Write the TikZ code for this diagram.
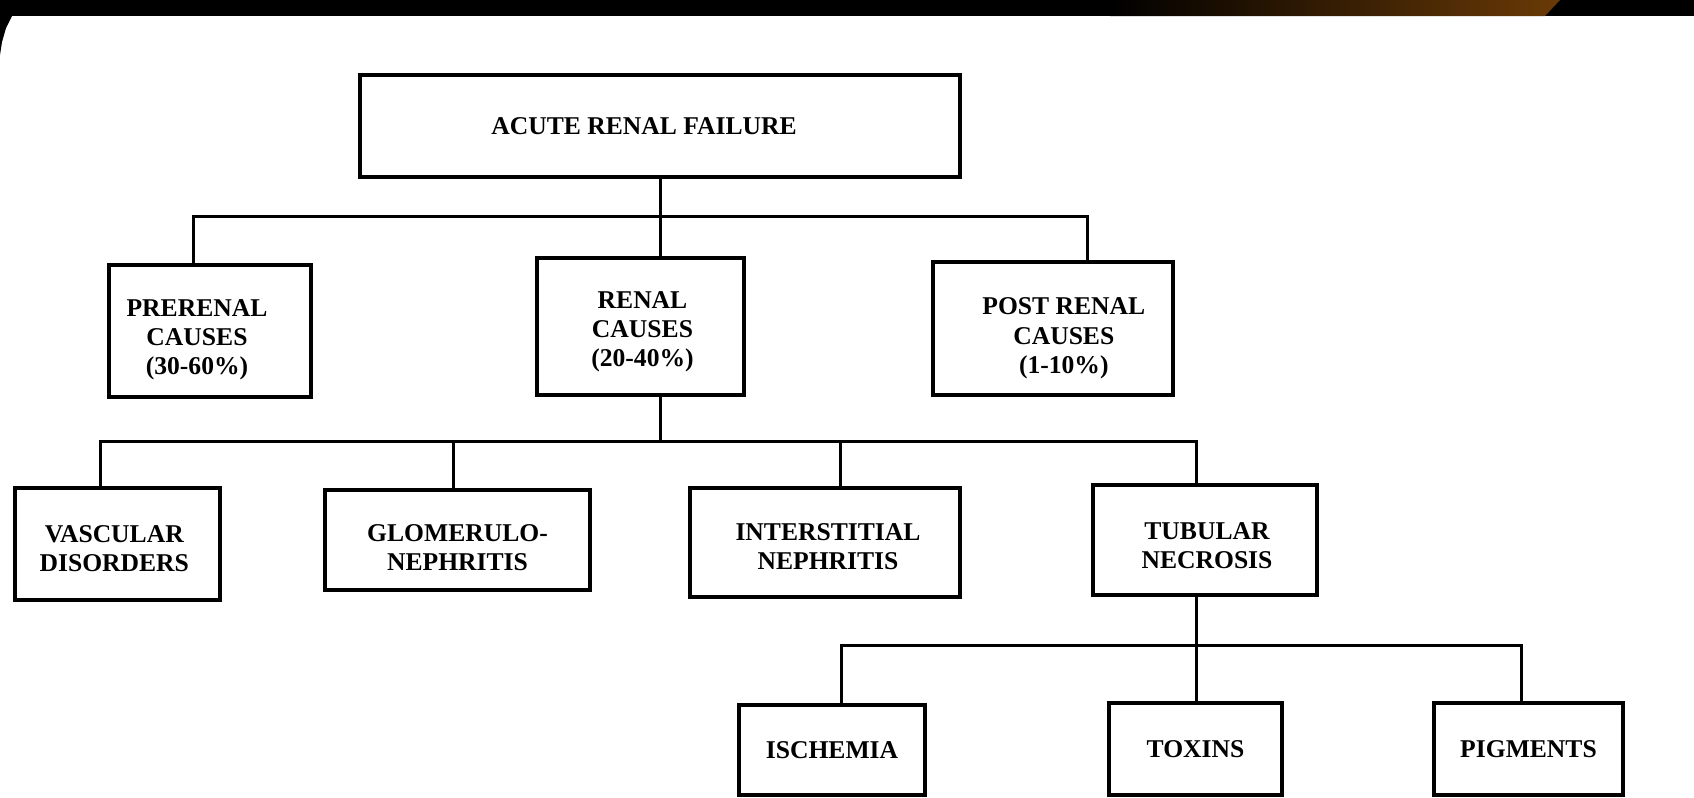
\documentclass[tikz,border=0pt]{standalone}
\usepackage{fontspec}
\setmainfont{Liberation Serif}
\usepackage{tikz}
\usetikzlibrary{calc}
\definecolor{bandbrown}{HTML}{6A3A06}

\begin{document}
\begin{tikzpicture}[x=0.5pt,y=-0.5pt,
  box/.style={draw,line width=2pt,inner sep=0pt},
  txt/.style={align=center,inner sep=0pt,
    font=\bfseries\fontsize{12.8}{14.6}\selectfont},
  conn/.style={line width=1.5pt}]
  \useasboundingbox (0,0) rectangle (1694,798);
  \fill[white] (0,0) rectangle (1694,798);
  % 上の帯
  \fill[black] (0,0) rectangle (1694,16);
  \shade[left color=black,right color=bandbrown]
    (1110,0) -- (1560,0) .. controls (1553,8) .. (1545,16) -- (1110,16) -- cycle;
  \fill[black] (0,16) -- (12,16) -- (6,28) -- (2,42) -- (0,55) -- cycle;
  % 箱
  \node[box,minimum width=300pt,minimum height=51pt,
    label={[txt,xshift=-8pt]center:ACUTE RENAL FAILURE}] (ARF) at (660,126) {};
  \node[box,minimum width=101pt,minimum height=66pt,
    label={[txt,xshift=-6.5pt,yshift=-4.3pt]center:{PRERENAL\\CAUSES\\(30-60\%)}}] (PRE) at (210,331) {};
  \node[box,minimum width=103.5pt,minimum height=68.5pt,
    label={[txt,xshift=1pt,yshift=-2.7pt]center:{RENAL\\CAUSES\\(20-40\%)}}] (REN) at (640.5,326.5) {};
  \node[box,minimum width=120pt,minimum height=66.5pt,
    label={[txt,xshift=5.4pt,yshift=-4.9pt]center:{POST RENAL\\CAUSES\\(1-10\%)}}] (POST) at (1053,328.5) {};
  \node[box,minimum width=102.5pt,minimum height=56pt,
    label={[txt,xshift=-1.6pt,yshift=-2.2pt]center:{VASCULAR\\DISORDERS}}] (VAS) at (117.5,544) {};
  \node[box,minimum width=132.5pt,minimum height=50pt,
    label={[txt,yshift=-3.8pt]center:{GLOMERULO-\\NEPHRITIS}}] (GLO) at (457.5,540) {};
  \node[box,minimum width=135pt,minimum height=54.5pt,
    label={[txt,xshift=1.5pt,yshift=-2.2pt]center:{INTERSTITIAL\\NEPHRITIS}}] (INT) at (825,542.5) {};
  \node[box,minimum width=112pt,minimum height=55pt,
    label={[txt,xshift=1pt,yshift=-2.7pt]center:{TUBULAR\\NECROSIS}}] (TUB) at (1205,540) {};
  \node[box,minimum width=93pt,minimum height=45pt,
    label={[txt]center:ISCHEMIA}] (ISC) at (832,750) {};
  \node[box,minimum width=86.5pt,minimum height=46pt,
    label={[txt]center:TOXINS}] (TOX) at (1195.5,749) {};
  \node[box,minimum width=94.5pt,minimum height=46pt,
    label={[txt]center:PIGMENTS}] (PIG) at (1528.5,749) {};
  % 分岐点
  \coordinate (J1L) at (193,216);
  \coordinate (J1R) at (1087,216);
  \coordinate (J2A) at (100,441);
  \coordinate (J2B) at (453,441);
  \coordinate (J2C) at (840,441);
  \coordinate (J2D) at (1196,441);
  \coordinate (J3A) at (841,645);
  \coordinate (J3B) at (1196,645);
  \coordinate (J3C) at (1521,645);
  % 線
  \draw[conn] (ARF.south) -- (ARF.south |- REN.north);
  \draw[conn] (PRE.north -| J1L) -- (J1L) -- (J1R) -- (POST.north -| J1R);
  \draw[conn] (ARF.south |- REN.south) -- (ARF.south |- J2A);
  \draw[conn] (VAS.north -| J2A) -- (J2A) -- (J2D) -- (TUB.north -| J2D);
  \draw[conn] (J2B) -- (GLO.north -| J2B);
  \draw[conn] (J2C) -- (INT.north -| J2C);
  \draw[conn] (TUB.south -| J3B) -- (J3B);
  \draw[conn] (ISC.north -| J3A) -- (J3A) -- (J3C) -- (PIG.north -| J3C);
  \draw[conn] (J3B) -- (TOX.north -| J3B);
\end{tikzpicture}
\end{document}
